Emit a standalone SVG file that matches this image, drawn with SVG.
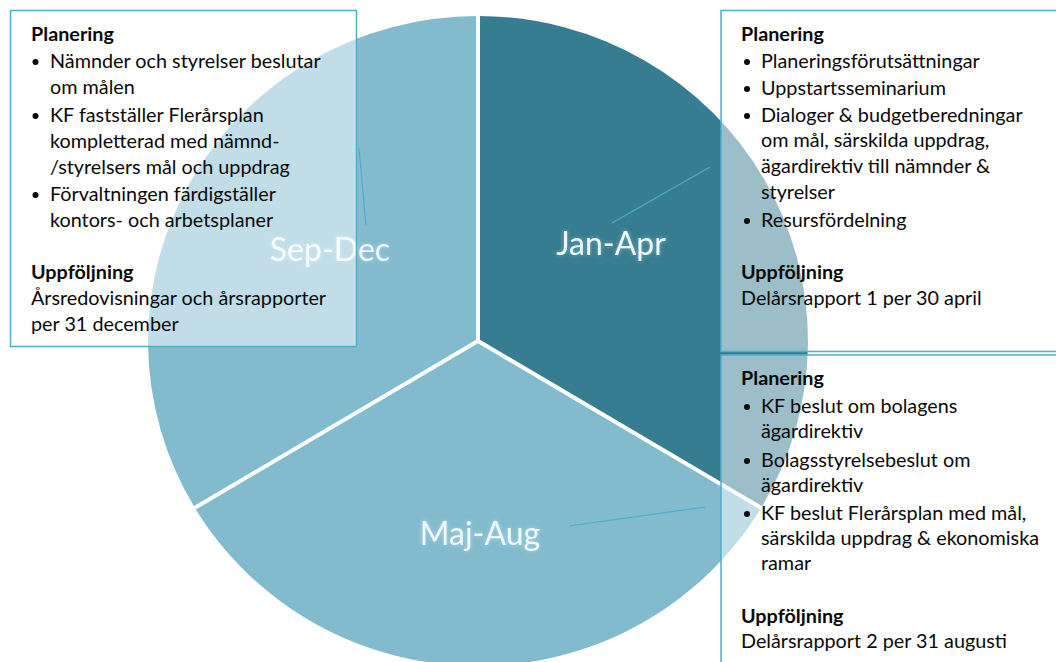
<svg xmlns="http://www.w3.org/2000/svg" width="1056" height="662" viewBox="0 0 1056 662">
  <defs>
    <filter id="glow" x="-20%" y="-40%" width="140%" height="180%">
      <feGaussianBlur in="SourceAlpha" stdDeviation="2" result="b"/>
      <feFlood flood-color="#ffffff" flood-opacity="0.35"/>
      <feComposite in2="b" operator="in" result="g"/>
      <feMerge><feMergeNode in="g"/><feMergeNode in="SourceGraphic"/></feMerge>
    </filter>
  </defs>
  <style>
    .light { fill: #83BBCE; }
    .dark { fill: #367D91; }
    .sep { stroke: #ffffff; stroke-width: 4; stroke-linecap: round; fill: none; }
    .lead { stroke: #4BADC8; stroke-width: 1.2; fill: none; }
    .box { fill: #ffffff; fill-opacity: 0.5; stroke: #4EAFCB; stroke-width: 1.5; }
    .t { font-family: Lato, "Open Sans", sans-serif; font-size: 19.8px; fill: #0a0a0a; }
    .h { font-weight: bold; }
    .lbl { font-family: Lato, "Open Sans", sans-serif; font-size: 32px; fill: #EEF8FB; text-anchor: middle; }
    .dot { fill: #0a0a0a; }
  </style>
  <rect width="1056" height="662" fill="#ffffff"/>

  <g id="pie">
    <path id="slice-jan-apr" class="dark" d="M478,341 L478,16 A330,325 0 0 1 761.2,507.8 Z"/>
    <path id="slice-maj-aug" class="light" d="M478,341 L761.2,507.8 A330,325 0 0 1 194.8,507.8 Z"/>
    <path id="slice-sep-dec" class="light" d="M478,341 L194.8,507.8 A330,325 0 0 1 478,16 Z"/>
    <path class="sep" d="M478,341 L478,12 M478,341 L764,509.5 M478,341 L192,509.5"/>
  </g>

  <g id="label-sep-dec"><text class="lbl" x="330" y="261" filter="url(#glow)">Sep-Dec</text></g>
  <g id="label-jan-apr"><text class="lbl" x="611" y="255" filter="url(#glow)">Jan-Apr</text></g>
  <g id="label-maj-aug"><text class="lbl" x="480" y="545" filter="url(#glow)">Maj-Aug</text></g>

  <g id="connectors">
    <line class="lead" x1="359" y1="148" x2="366" y2="225"/>
    <line class="lead" x1="612" y1="223" x2="710" y2="167"/>
    <line class="lead" x1="569" y1="526" x2="705" y2="507"/>
  </g>

  <g id="box-sep-dec">
    <rect class="box" x="10.5" y="10.5" width="346" height="336"/>
    <text class="t h" x="31" y="41">Planering</text>
    <circle class="dot" cx="35.5" cy="62" r="3"/>
    <text class="t" x="50" y="68">Nämnder och styrelser beslutar</text>
    <text class="t" x="50" y="94">om målen</text>
    <circle class="dot" cx="35.5" cy="116" r="3"/>
    <text class="t" x="50" y="122">KF fastställer Flerårsplan</text>
    <text class="t" x="50" y="148">kompletterad med nämnd-</text>
    <text class="t" x="50" y="174">/styrelsers mål och uppdrag</text>
    <circle class="dot" cx="35.5" cy="195" r="3"/>
    <text class="t" x="50" y="201">Förvaltningen färdigställer</text>
    <text class="t" x="50" y="227">kontors- och arbetsplaner</text>
    <text class="t h" x="31" y="279">Uppföljning</text>
    <text class="t" x="31" y="305">Årsredovisningar och årsrapporter</text>
    <text class="t" x="31" y="331">per 31 december</text>
  </g>

  <g id="box-jan-apr">
    <rect class="box" x="721" y="10.5" width="345" height="341"/>
    <text class="t h" x="741" y="41">Planering</text>
    <circle class="dot" cx="747" cy="62" r="3"/>
    <text class="t" x="761" y="68">Planeringsförutsättningar</text>
    <circle class="dot" cx="747" cy="89" r="3"/>
    <text class="t" x="761" y="95">Uppstartsseminarium</text>
    <circle class="dot" cx="747" cy="116" r="3"/>
    <text class="t" x="761" y="122">Dialoger &amp; budgetberedningar</text>
    <text class="t" x="761" y="147">om mål, särskilda uppdrag,</text>
    <text class="t" x="761" y="173">ägardirektiv till nämnder &amp;</text>
    <text class="t" x="761" y="199">styrelser</text>
    <circle class="dot" cx="747" cy="221" r="3"/>
    <text class="t" x="761" y="227">Resursfördelning</text>
    <text class="t h" x="741" y="279">Uppföljning</text>
    <text class="t" x="741" y="305">Delårsrapport 1 per 30 april</text>
  </g>

  <g id="box-maj-aug">
    <rect class="box" x="721" y="355" width="345" height="320"/>
    <text class="t h" x="741" y="385">Planering</text>
    <circle class="dot" cx="747" cy="407" r="3"/>
    <text class="t" x="761" y="413">KF beslut om bolagens</text>
    <text class="t" x="761" y="438">ägardirektiv</text>
    <circle class="dot" cx="747" cy="461" r="3"/>
    <text class="t" x="761" y="467">Bolagsstyrelsebeslut om</text>
    <text class="t" x="761" y="492">ägardirektiv</text>
    <circle class="dot" cx="747" cy="514" r="3"/>
    <text class="t" x="761" y="520">KF beslut Flerårsplan med mål,</text>
    <text class="t" x="761" y="545">särskilda uppdrag &amp; ekonomiska</text>
    <text class="t" x="761" y="570">ramar</text>
    <text class="t h" x="741" y="623">Uppföljning</text>
    <text class="t" x="741" y="648">Delårsrapport 2 per 31 augusti</text>
  </g>
</svg>
